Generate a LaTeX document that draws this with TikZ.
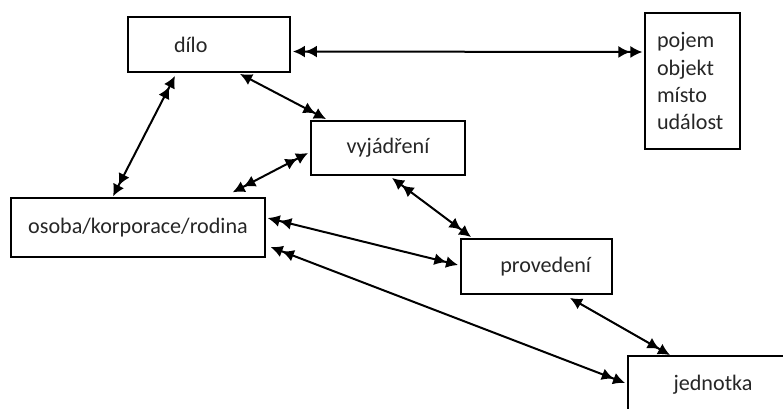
\documentclass[tikz,border=0pt]{standalone}
\usepackage{fontspec}
\setmainfont{Carlito}
\usepackage{tikz}
\usetikzlibrary{arrows.meta,calc}

\begin{document}
\begin{tikzpicture}[x=0.75pt,y=-0.75pt,
    every node/.style={font=\fontsize{16.6}{20.3}\selectfont, text=black!85},
    box/.style={draw, line width=1.4pt, inner sep=0pt},
    link/.style={{Latex[length=9pt,width=9pt]Latex[length=9pt,width=9pt]}-{Latex[length=9pt,width=9pt]Latex[length=9pt,width=9pt]}, line width=1.5pt},
    link1/.style={{Latex[length=9pt,width=9pt]}-{Latex[length=9pt,width=9pt]Latex[length=9pt,width=9pt]}, line width=1.5pt}]
  \useasboundingbox (0,0) rectangle (783,408);
  \clip (0,0) rectangle (783,408);
  \node[box, minimum width=121.5pt, minimum height=41.25pt, align=left, inner xsep=34.5pt, text width=52.5pt] at (209,44.5) (dilo) {dílo};
  \node[box, line width=0.8pt, minimum height=102pt, align=left, inner xsep=9pt, text width=53.25pt] at (692.5,81) (pojem) {pojem\\objekt\\místo\\událost};
  \node[box, minimum width=115.5pt, minimum height=40.5pt] at (388,148) (vyj) {vyjádření};
  \node[box, line width=1pt, minimum width=190.5pt, minimum height=44.25pt] at (138,227.5) (osoba) {osoba/korporace/rodina};
  \node[box, minimum height=41.25pt, align=right, inner xsep=15.75pt, text width=81.75pt] at (536.5,266.5) (prov) {provedení};
  \node[box, minimum width=127.5pt, minimum height=43.5pt] at (713,385) (jed) {jednotka};
  % vazby
  \draw[link] ($(dilo.east)+(2,7)$) -- ($(pojem.west)+(-2,-29)$);
  \draw[link] ($(dilo.south)+(-34,3)$) -- ($(osoba.north)+(-25,-1)$);
  \draw[link1] ($(dilo.south)+(31,1)$) -- ($(vyj.north west)+(16,-1)$);
  \draw[link] ($(vyj.west)+(-2,5)$) -- ($(osoba.north east)+(-33,-5)$);
  \draw[link] ($(vyj.south)+(4,2)$) -- ($(prov.north west)+(11,-1)$);
  \draw[link] ($(osoba.east)+(2,-9.5)$) -- ($(prov.west)+(-2,-1.5)$);
  \draw[link] ($(osoba.east)+(5,19.5)$) -- ($(jed.west)+(-2,-2)$);
  \draw[link1] ($(prov.south)+(33.5,3)$) -- ($(jed.north)+(-43,0)$);
\end{tikzpicture}
\end{document}
